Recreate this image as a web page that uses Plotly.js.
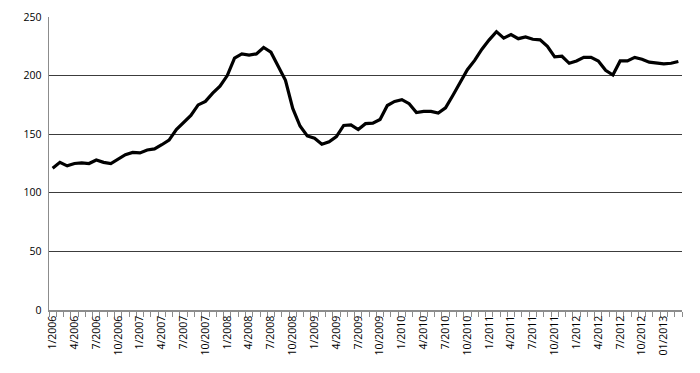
<!DOCTYPE html>
<html>
<head>
<meta charset="utf-8">
<script src="https://cdn.plot.ly/plotly-3.0.1.min.js"></script>
<style>html,body{margin:0;padding:0;background:#fff;}#chart{width:700px;height:373px;}</style>
</head>
<body>
<div id="chart"></div>
<script>
// Monthly values, 1/2006 .. 3/2013
const values = [
  121, 126, 123, 125, 125.5, 125, 128, 126, 125, 128.5, 132.5, 134.5,
  134, 136.5, 137.5, 141, 145, 154, 160, 166, 175, 178, 185, 191,
  200, 215, 218.5, 217.5, 218.5, 224, 220, 208, 196, 172, 157, 148.5,
  146.5, 141.5, 143.5, 148, 157.5, 158, 154, 159, 159.5, 162.5, 174.5, 178,
  179.5, 176, 168.5, 169.5, 169.5, 168, 172.5, 183, 194, 205, 213, 222.5,
  230.5, 237.5, 232, 235, 231.5, 233, 231, 230.5, 225, 216, 216.5, 210.5,
  212.5, 215.5, 215.5, 212.5, 204.5, 200.5, 212.5, 212.5, 215.5, 214, 211.5, 210.5,
  210, 210.5, 212
];
const tickLabels = [
  "1/2006","4/2006","7/2006","10/2006",
  "1/2007","4/2007","7/2007","10/2007",
  "1/2008","4/2008","7/2008","10/2008",
  "1/2009","4/2009","7/2009","10/2009",
  "1/2010","4/2010","7/2010","10/2010",
  "1/2011","4/2011","7/2011","10/2011",
  "1/2012","4/2012","7/2012","10/2012",
  "01/2013"
];
const monthsPerLabel = 3;

const xIdx = values.map((v, i) => i);
const tickVals = tickLabels.map((t, i) => i * monthsPerLabel);

const trace = {
  x: xIdx, y: values, type: 'scatter', mode: 'lines',
  line: {color: '#000', width: 3.2, shape: 'linear'},
  hoverinfo: 'skip'
};

const layout = {
  width: 700, height: 373,
  margin: {l: 49, r: 18, t: 17, b: 63},
  paper_bgcolor: '#fff', plot_bgcolor: '#fff',
  font: {family: '"Open Sans", "Noto Sans", sans-serif', size: 10.5, color: '#000'},
  showlegend: false,
  xaxis: {
    range: [-0.5, values.length - 0.5],
    tickmode: 'array', tickvals: tickVals, ticktext: tickLabels,
    tickangle: -90, ticks: '', ticklen: 0,
    showgrid: false, zeroline: false,
    showline: true, linecolor: '#8c8c8c', linewidth: 1.5,
    minor: {tickmode: 'linear', tick0: -0.5, dtick: 1, ticks: 'outside', ticklen: 5, tickcolor: '#8c8c8c', tickwidth: 1, showgrid: false},
    fixedrange: true
  },
  yaxis: {
    range: [0, 250], tickmode: 'linear', tick0: 0, dtick: 50,
    ticks: '', showgrid: true, gridcolor: '#3c3c3c', gridwidth: 1,
    zeroline: false, showline: true, linecolor: '#8c8c8c', linewidth: 1.5,
    ticklabelstandoff: 4,
    fixedrange: true
  }
};

Plotly.newPlot('chart', [trace], layout, {staticPlot: true, displayModeBar: false});
</script>
</body>
</html>
